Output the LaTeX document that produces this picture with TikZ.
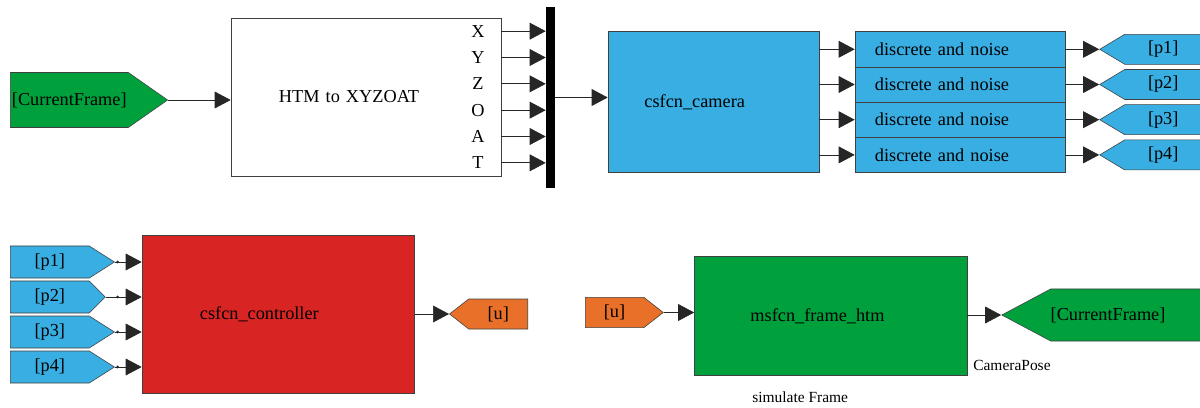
\documentclass[tikz,border=0pt]{standalone}
\usepackage{fontspec}
\setmainfont{Liberation Serif}
\usetikzlibrary{shapes.symbols,arrows.meta}
\definecolor{slgreen}{RGB}{0,160,60}
\definecolor{slblue}{RGB}{56,174,226}
\definecolor{slred}{RGB}{217,36,36}
\definecolor{slorange}{RGB}{232,112,40}
\begin{document}
\begin{tikzpicture}[
		x=0.025cm, y=-0.025cm,
		font=\fontsize{13}{15}\selectfont,
		block/.style={draw=black!75, rectangle, align=left, inner ysep=0pt},
		tagout/.style={signal, signal to=east, signal from=nowhere, draw=black!75, inner xsep=0pt, inner ysep=0pt, align=center},
		tagin/.style={signal, signal to=west, signal from=nowhere, draw=black!75, inner xsep=0pt, inner ysep=0pt, align=center},
		sig/.style={draw=black!85, line width=0.5pt, -{Triangle[length=0.4cm,width=0.42cm]}},
		small/.style={font=\fontsize{11}{13}\selectfont, inner sep=0pt}
	]
	\useasboundingbox (0,0) rectangle (1200,407);

	\node[tagout, fill=slgreen, text width=2.95cm, minimum height=1.375cm, signal pointer angle=70, anchor=west] (cfsrc) at (10,100) {[CurrentFrame]};
	\node[block, fill=white, minimum height=3.95cm, text width=4.35cm, inner xsep=1.2cm] (htm) at (366,97) {HTM to XYZOAT};
	\node[fill=black, minimum width=0.225cm, minimum height=4.525cm, inner sep=0pt] (bar) at (550.5,97.5) {};
	\draw[sig] (cfsrc.east) -- (htm.west |- cfsrc.east);
	\foreach \l [count=\k] in {X,Y,Z,O,A,T} {
		\node[inner sep=0pt] (port\k) at (478,{97+(\k-3.5)*26.33}) {\l};
		\draw[sig] (htm.east |- port\k) -- (bar.west |- port\k);
	}

	\node[block, fill=slblue, minimum height=3.515cm, text width=3.45cm, inner xsep=0.9125cm] (cam) at (713.5,102) {csfcn\_camera};
	\draw[sig] (bar.east) -- (cam.west |- bar.east);
	\foreach \k in {1,...,4} {
		\node[block, fill=slblue, minimum height=0.88cm, text width=4.25cm, inner xsep=0.5cm] (dn\k) at (960,{31.7+35.2*(\k-0.5)}) {discrete and noise};
		\node[tagin, fill=slblue, text width=1.925cm, minimum height=0.75cm, signal pointer angle=62, anchor=east] (pr\k) at (1202,{31.7+35.2*(\k-0.5)}) {[p\k]};
		\draw[sig] (cam.east |- dn\k) -- (dn\k.west);
		\draw[sig] (dn\k.east) -- (pr\k.west);
	}

	\node[block, fill=slred, minimum height=3.96cm, text width=3.9125cm, inner xsep=1.45cm] (ctrl) at (278.25,314.2) {csfcn\_controller};
	\foreach \k/\a in {1/65,2/90,3/65,4/65} {
		\node[tagout, fill=slblue, text width=1.975cm, minimum height=0.8cm, signal pointer angle=\a, anchor=west] (pl\k) at (10,{262+35*(\k-1)}) {[p\k]};
		\draw[sig] (pl\k.east) -- (ctrl.west |- pl\k.east);
		\fill[black!85] ([xshift=-0.6cm]ctrl.west |- pl\k.east) circle (1.1pt);
	}
	\node[tagin, fill=slorange, text width=1.475cm, minimum height=0.75cm, signal pointer angle=76, anchor=east] (uout) at (528,314) {[u]};
	\draw[sig] (ctrl.east |- uout.west) -- (uout.west);

	\node[tagout, fill=slorange, text width=1.4625cm, minimum height=0.76cm, signal pointer angle=76, anchor=west] (uin) at (585,312.5) {[u]};
	\node[block, fill=slgreen, minimum height=2.99cm, text width=4.0125cm, inner xsep=1.4cm] (frame) at (830.75,315.85) {msfcn\_frame\_htm};
	\draw[sig] (uin.east) -- (frame.west |- uin.east);
	\node[tagin, fill=slgreen, text width=3.975cm, minimum height=1.3cm, signal pointer angle=56, anchor=east, align=left] (cfsink) at (1210,315) {[CurrentFrame]};
	\draw[sig] (frame.east |- cfsink.west) -- (cfsink.west);
	\node[small, anchor=west] (campose) at (973,365) {CameraPose};
	\node[small, anchor=west] (simlabel) at (752,397) {simulate Frame};
\end{tikzpicture}
\end{document}
